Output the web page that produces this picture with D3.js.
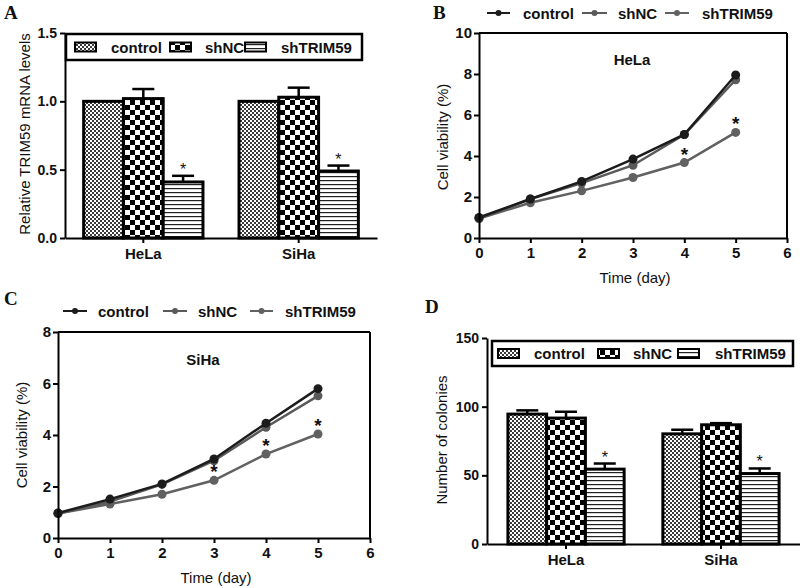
<!DOCTYPE html>
<html><head><meta charset="utf-8">
<script src="https://cdn.jsdelivr.net/npm/d3@7"></script>
<style>body{margin:0;background:#fff}svg{display:block}text{font-family:"Liberation Sans",Arial,sans-serif;fill:#111}</style>
</head><body>
<svg id="c" width="800" height="588"></svg>
<script>
// ---------- data ----------
const cellLines = ["HeLa", "SiHa"];
const seriesNames = ["control", "shNC", "shTRIM59"];
// Panel A: relative TRIM59 mRNA
const mrnaControl = [1.00, 1.00];
const mrnaShNC = [1.02, 1.03];
const mrnaShTRIM59 = [0.41, 0.49];
const mrnaErrControl = [0.00, 0.00];
const mrnaErrShNC = [0.07, 0.07];
const mrnaErrShTRIM59 = [0.045, 0.04];
const mrnaTicks = [0, 0.5, 1.0, 1.5];
// Panels B/C: cell viability
const days = [0, 1, 2, 3, 4, 5];
const helaControl = [1.00, 1.90, 2.76, 3.85, 5.05, 7.95];
const helaShNC = [0.95, 1.90, 2.68, 3.55, 5.05, 7.72];
const helaShTRIM59 = [0.95, 1.72, 2.30, 2.95, 3.68, 5.15];
const helaStars = [4, 5];
const sihaControl = [0.97, 1.51, 2.10, 3.07, 4.46, 5.80];
const sihaShNC = [0.95, 1.42, 2.08, 3.00, 4.30, 5.52];
const sihaShTRIM59 = [0.95, 1.32, 1.70, 2.24, 3.26, 4.04];
const sihaStars = [3, 4, 5];
const dayTicks = [0, 1, 2, 3, 4, 5, 6];
const helaTicks = [0, 2, 4, 6, 8, 10];
const sihaTicks = [0, 2, 4, 6, 8];
// Panel D: colonies
const colControl = [94.6, 80.2];
const colShNC = [91.7, 86.8];
const colShTRIM59 = [54.5, 51.3];
const colErrControl = [2.7, 3.0];
const colErrShNC = [4.6, 1.2];
const colErrShTRIM59 = [4.1, 3.7];
const colTicks = [0, 50, 100, 150];

// ---------- setup ----------
const svg = d3.select("#c");
const defs = svg.append("defs");
function pat(id, w, h, draw) {
  const p = defs.append("pattern").attr("id", id).attr("patternUnits", "userSpaceOnUse").attr("width", w).attr("height", h);
  p.append("rect").attr("width", w).attr("height", h).attr("fill", "#fff");
  draw(p);
}
pat("pControl", 4, 4, p => {
  p.append("rect").attr("x", 0).attr("y", 0).attr("width", 2).attr("height", 2).attr("fill", "#3a3a3a");
  p.append("rect").attr("x", 2).attr("y", 2).attr("width", 2).attr("height", 2).attr("fill", "#3a3a3a");
});
pat("pShNC", 10, 10, p => {
  p.append("rect").attr("x", 0).attr("y", 0).attr("width", 5).attr("height", 5).attr("fill", "#000");
  p.append("rect").attr("x", 5).attr("y", 5).attr("width", 5).attr("height", 5).attr("fill", "#000");
});
pat("pStripe", 4, 4, p => {
  p.append("rect").attr("x", 0).attr("y", 0).attr("width", 4).attr("height", 1.2).attr("fill", "#222");
});
const fills = ["url(#pControl)", "url(#pShNC)", "url(#pStripe)"];

function letter(t, x, y) {
  svg.append("text").attr("x", x).attr("y", y).text(t)
    .style("font-family", "'Liberation Serif','Times New Roman',serif").style("font-weight", "bold").style("font-size", "19px");
}
function yTitle(t, x, y) {
  svg.append("text").attr("transform", `translate(${x},${y}) rotate(-90)`).attr("text-anchor", "middle")
    .style("font-size", "15px").text(t);
}
function styleAxis(g) {
  g.selectAll("path,line").attr("stroke", "#000").attr("stroke-width", 2);
  g.selectAll("text").style("font-size", "14px").style("font-weight", "bold").attr("fill", "#111");
}

// ---------- bar panel ----------
function barPanel(o) {
  const x = d3.scaleBand().domain(cellLines).range([o.x0, o.x1]).paddingInner(o.pi).paddingOuter(o.po);
  const xs = d3.scaleBand().domain(seriesNames).range([0, x.bandwidth()]).padding(0);
  const y = d3.scaleLinear().domain([0, o.ymax]).range([o.y0, o.y1]);
  const g = svg.append("g");
  seriesNames.forEach((s, si) => {
    cellLines.forEach((c, ci) => {
      const v = o.means[si][ci], e = o.errs[si][ci];
      const bx = x(c) + xs(s), bw = xs.bandwidth();
      if (e > 0) {
        g.append("line").attr("x1", bx + bw / 2).attr("x2", bx + bw / 2).attr("y1", y(v)).attr("y2", y(v + e)).attr("stroke", "#000").attr("stroke-width", 2.5);
        g.append("line").attr("x1", bx + bw / 2 - 11).attr("x2", bx + bw / 2 + 11).attr("y1", y(v + e)).attr("y2", y(v + e)).attr("stroke", "#000").attr("stroke-width", 2.5);
      }
      g.append("rect").attr("x", bx).attr("y", y(v)).attr("width", bw).attr("height", y(0) - y(v))
        .attr("fill", fills[si]).attr("stroke", "#000").attr("stroke-width", 3);
      if (si === 2) {
        g.append("text").attr("x", bx + bw / 2).attr("y", y(v + e) - 1).attr("text-anchor", "middle")
          .style("font-size", "16px").text("*");
      }
    });
  });
  const ya = g.append("g").attr("transform", `translate(${o.x0},0)`)
    .call(d3.axisLeft(y).tickValues(o.ticks).tickFormat(o.fmt).tickSize(5).tickSizeOuter(0).tickPadding(3));
  styleAxis(ya);
  const xa = g.append("g").attr("transform", `translate(0,${o.y0})`)
    .call(d3.axisBottom(x).tickSize(5).tickSizeOuter(0).tickPadding(5));
  styleAxis(xa);
  xa.selectAll("text").style("font-size", "15px");
  const L = o.legend;
  g.append("rect").attr("x", L.x0).attr("y", L.y0).attr("width", L.x1 - L.x0).attr("height", L.y1 - L.y0)
    .attr("fill", "#fff").attr("stroke", "#000").attr("stroke-width", 2.5);
  const cy = (L.y0 + L.y1) / 2;
  seriesNames.forEach((s, si) => {
    g.append("rect").attr("x", L.sw[si]).attr("y", cy - 4.5).attr("width", 21).attr("height", 9)
      .attr("fill", fills[si]).attr("stroke", "#000").attr("stroke-width", 2);
    g.append("text").attr("x", L.tx[si]).attr("y", cy + 5.5).style("font-size", "15px").style("font-weight", "bold").text(s);
  });
  yTitle(o.ytitle, o.ytx, o.yty);
}

// ---------- line panel ----------
const lineColors = ["#1c1c1c", "#5a5a5a", "#616161"];
function linePanel(o) {
  const x = d3.scaleLinear().domain([0, 6]).range([o.x0, o.x1]);
  const y = d3.scaleLinear().domain([0, o.ymax]).range([o.y0, o.y1]);
  const g = svg.append("g");
  const line = d3.line().x((d, i) => x(days[i])).y(d => y(d));
  [2, 1, 0].forEach(si => {
    const vals = o.series[si];
    g.append("path").datum(vals).attr("d", line).attr("fill", "none").attr("stroke", lineColors[si]).attr("stroke-width", 2.5);
    g.selectAll(null).data(vals).enter().append("circle")
      .attr("cx", (d, i) => x(days[i])).attr("cy", d => y(d)).attr("r", 4.5).attr("fill", lineColors[si]);
  });
  o.stars.forEach(dy => {
    const v = o.series[2][days.indexOf(dy)];
    g.append("text").attr("x", x(dy)).attr("y", y(v) - 2).attr("text-anchor", "middle")
      .style("font-size", "19px").style("font-weight", "bold").text("*");
  });
  g.append("line").attr("x1", o.x0).attr("x2", o.x1).attr("y1", o.y1).attr("y2", o.y1).attr("stroke", "#000").attr("stroke-width", 2);
  g.append("line").attr("x1", o.x1).attr("x2", o.x1).attr("y1", o.y1).attr("y2", o.y0).attr("stroke", "#000").attr("stroke-width", 2);
  const ya = g.append("g").attr("transform", `translate(${o.x0},0)`)
    .call(d3.axisLeft(y).tickValues(o.ticks).tickFormat(d3.format("d")).tickSize(5).tickSizeOuter(0).tickPadding(2));
  styleAxis(ya);
  const xa = g.append("g").attr("transform", `translate(0,${o.y0})`)
    .call(d3.axisBottom(x).tickValues(dayTicks).tickFormat(d3.format("d")).tickSize(5).tickSizeOuter(0).tickPadding(4));
  styleAxis(xa);
  ya.selectAll("text").style("font-size", "15px");
  xa.selectAll("text").style("font-size", "15px");
  g.append("text").attr("x", o.tx).attr("y", o.ty).attr("text-anchor", "middle").style("font-size", "15px").style("font-weight", "bold").text(o.title);
  g.append("text").attr("x", (o.x0 + o.x1) / 2 + 2).attr("y", o.y0 + 45).attr("text-anchor", "middle").style("font-size", "15px").text("Time (day)");
  yTitle("Cell viability (%)", o.ytx, o.yty);
  const L = o.legend;
  seriesNames.forEach((s, si) => {
    g.append("line").attr("x1", L.seg[si][0]).attr("x2", L.seg[si][1]).attr("y1", L.y).attr("y2", L.y).attr("stroke", lineColors[si]).attr("stroke-width", 2);
    g.append("circle").attr("cx", (L.seg[si][0] + L.seg[si][1]) / 2).attr("cy", L.y).attr("r", 3).attr("fill", lineColors[si]);
    g.append("text").attr("x", L.tx[si]).attr("y", L.y + 5.5).style("font-size", "15px").style("font-weight", "bold").text(s);
  });
}

// ---------- draw ----------
barPanel({
  x0: 65, x1: 377, y0: 238, y1: 33, pi: 0.232, po: 0.12, ymax: 1.5,
  means: [mrnaControl, mrnaShNC, mrnaShTRIM59], errs: [mrnaErrControl, mrnaErrShNC, mrnaErrShTRIM59],
  ticks: mrnaTicks, fmt: d3.format(".1f"),
  legend: { x0: 66, x1: 362, y0: 34, y1: 60, sw: [75, 170, 245], tx: [111, 205, 281] },
  ytitle: "Relative  TRIM59 mRNA levels", ytx: 30, yty: 134
});
barPanel({
  x0: 487, x1: 800, y0: 544, y1: 338, pi: 0.25, po: 0.135, ymax: 150,
  means: [colControl, colShNC, colShTRIM59], errs: [colErrControl, colErrShNC, colErrShTRIM59],
  ticks: colTicks, fmt: d3.format("d"),
  legend: { x0: 492, x1: 793, y0: 341, y1: 366, sw: [498, 598, 678], tx: [534, 633, 715] },
  ytitle: "Number of colonies", ytx: 447, yty: 440
});
linePanel({
  x0: 479, x1: 787, y0: 238, y1: 33, ymax: 10, ticks: helaTicks,
  series: [helaControl, helaShNC, helaShTRIM59], stars: helaStars,
  title: "HeLa", tx: 632, ty: 65, ytx: 448, yty: 137,
  legend: { y: 13, seg: [[487, 510], [582, 607], [665, 689]], tx: [523, 618, 702] }
});
linePanel({
  x0: 58, x1: 370, y0: 538, y1: 332, ymax: 8, ticks: sihaTicks,
  series: [sihaControl, sihaShNC, sihaShTRIM59], stars: sihaStars,
  title: "SiHa", tx: 203, ty: 365, ytx: 27, yty: 435,
  legend: { y: 311, seg: [[63, 87], [163, 187], [250, 273]], tx: [98, 198, 285] }
});
letter("A", 4, 19);
letter("B", 433, 19);
letter("C", 4, 305);
letter("D", 425, 313);
</script>
</body></html>
